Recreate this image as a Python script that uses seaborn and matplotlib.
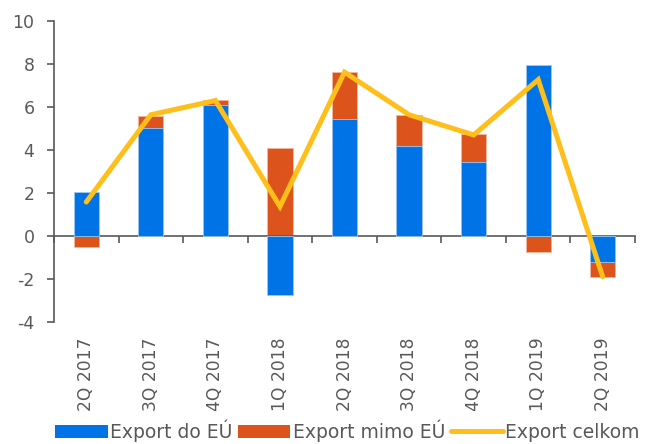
import numpy as np
import pandas as pd
import matplotlib
matplotlib.use("Agg")
import matplotlib.pyplot as plt
import seaborn as sns
from matplotlib.patches import Patch
from matplotlib.lines import Line2D

categories = ["2Q 2017", "3Q 2017", "4Q 2017", "1Q 2018", "2Q 2018",
              "3Q 2018", "4Q 2018", "1Q 2019", "2Q 2019"]
export_eu = [2.05, 5.02, 6.09, -2.75, 5.44, 4.20, 3.44, 7.97, -1.21]
export_non_eu = [-0.50, 0.58, 0.22, 4.07, 2.21, 1.44, 1.30, -0.76, -0.70]
export_total = [1.58, 5.64, 6.30, 1.37, 7.62, 5.64, 4.70, 7.27, -1.90]

blue = "#0073E6"
orange = "#DC541B"
yellow = "#FFBF1A"
grey = "#595959"

eu = np.array(export_eu)
neu = np.array(export_non_eu)
# stacked end of the orange segment (Excel-style stacking of +/- separately)
outer = np.where(np.sign(eu) == np.sign(neu), eu + neu, neu)

df = pd.DataFrame({"cat": categories, "eu": eu, "outer": outer,
                   "total": export_total, "pos": np.arange(len(categories))})

sns.set_theme(style="white")
plt.rcParams["font.family"] = ["DejaVu Sans"]
plt.rcParams["axes.unicode_minus"] = False

fig = plt.figure(figsize=(6.52, 4.44), dpi=100)
ax = fig.add_axes([0.0828, 0.2748, 0.974 - 0.0828, 0.9527 - 0.2748])

sns.barplot(data=df, x="cat", y="outer", color=orange, saturation=1,
            width=0.39, edgecolor="#F2B8A0", linewidth=0.6, ax=ax, zorder=2)
sns.barplot(data=df, x="cat", y="eu", color=blue, saturation=1,
            width=0.39, edgecolor="#9CC8F5", linewidth=0.6, ax=ax, zorder=3)
sns.lineplot(data=df, x="pos", y="total", color=yellow, linewidth=3.6,
             ax=ax, zorder=4, solid_capstyle="round", solid_joinstyle="miter")

ax.set_xlim(-0.5, len(categories) - 0.5)
ax.set_ylim(-4, 10)
ax.set_yticks(np.arange(-4, 11, 2))
ax.set_xlabel("")
ax.set_ylabel("")

for s in ["top", "right"]:
    ax.spines[s].set_visible(False)
ax.spines["left"].set_color(grey)
ax.spines["left"].set_linewidth(1.2)
ax.spines["bottom"].set_position(("data", 0))
ax.spines["bottom"].set_color(grey)
ax.spines["bottom"].set_linewidth(1.2)
ax.set_xticks(np.arange(-0.5, len(categories), 1.0))
ax.set_xticklabels([])
ax.tick_params(axis="x", direction="out", length=5, width=1.2, color=grey, bottom=True)
ax.tick_params(axis="y", direction="out", length=5, width=1.2, color=grey, left=True,
               labelsize=12.5, labelcolor=grey, pad=9)

sec = ax.secondary_xaxis("bottom")
sec.set_xticks(np.arange(len(categories)))
sec.set_xticklabels(categories, rotation=90, fontsize=12.3, color=grey)
sec.tick_params(length=0, pad=11)
sec.spines["bottom"].set_visible(False)

handles = [Patch(facecolor=blue, edgecolor="none"),
           Patch(facecolor=orange, edgecolor="none"),
           Line2D([], [], color=yellow, linewidth=3.6, solid_capstyle="round")]
labels = ["Export do EÚ", "Export mimo EÚ", "Export celkom"]
leg = fig.legend(handles, labels, loc="center", bbox_to_anchor=(0.533, 0.03),
                 ncol=3, frameon=False, fontsize=13.5, handlelength=2.8,
                 handletextpad=0.12, columnspacing=0.3, borderaxespad=0)
for t in leg.get_texts():
    t.set_color(grey)

fig.savefig("out.png", dpi=100)
